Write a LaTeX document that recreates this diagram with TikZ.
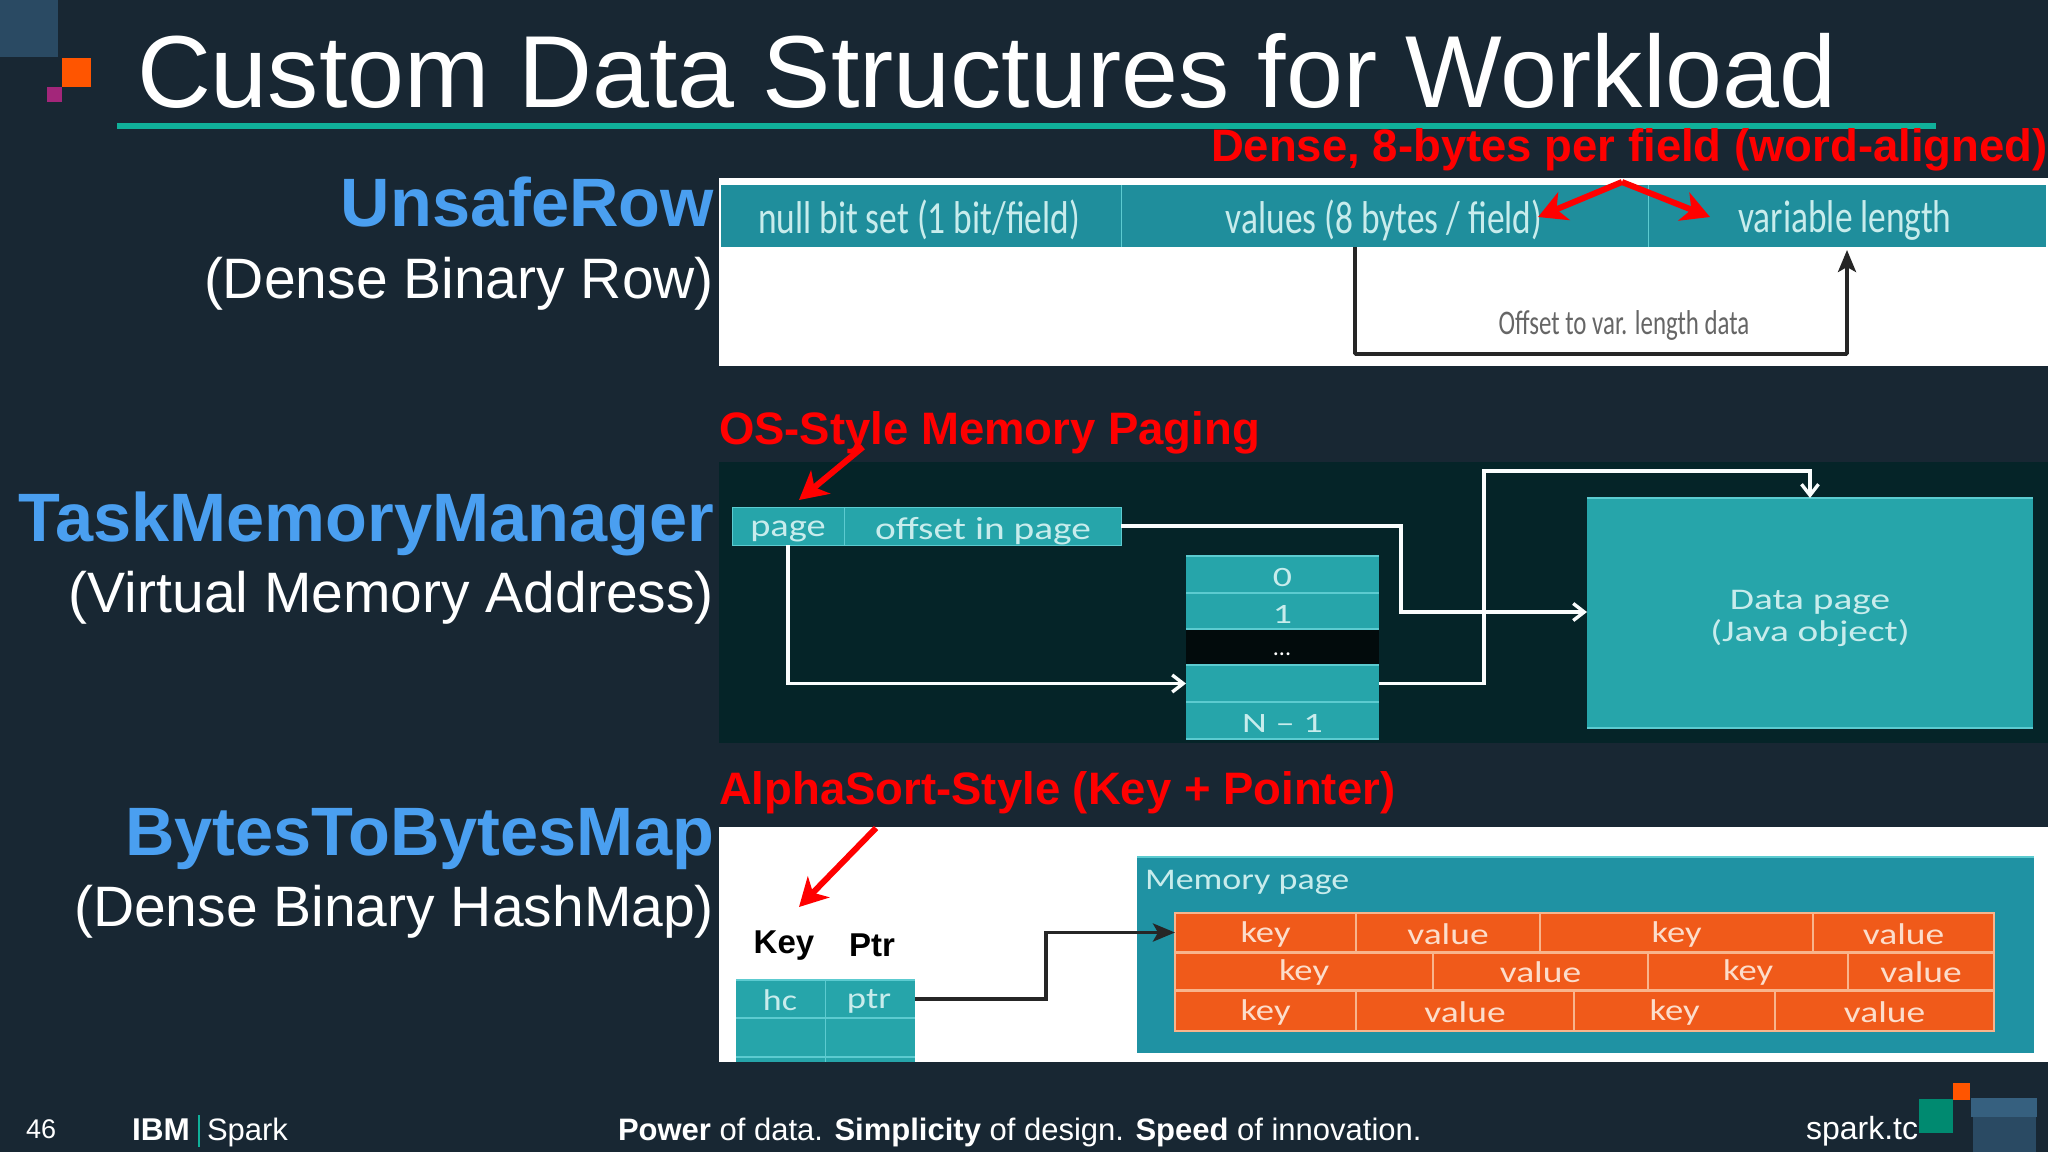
\documentclass[tikz,border=0pt]{standalone}
\usepackage{fontspec}
\setmainfont{Liberation Sans}
\newfontfamily\calfont{Carlito}
\usetikzlibrary{arrows.meta,calc}
\definecolor{bg}{HTML}{182733}
\definecolor{rule}{HTML}{10B09A}
\definecolor{blueT}{HTML}{4A9FF0}
\definecolor{tealA}{HTML}{1F8E9C}
\definecolor{tealB}{HTML}{26A5AA}
\definecolor{tealC}{HTML}{1F92A3}
\definecolor{darkP}{HTML}{052428}
\definecolor{lightT}{HTML}{C8ECEC}
\definecolor{orangeK}{HTML}{F05A1A}
\definecolor{lineL}{HTML}{5CCBD0}
\definecolor{lineO}{HTML}{F8B48C}
\definecolor{wedgeA}{HTML}{2A4A63}
\definecolor{wedgeB}{HTML}{36607F}
\definecolor{markO}{HTML}{FF5500}
\definecolor{markP}{HTML}{A3267A}
\definecolor{markG}{HTML}{008A70}
\newcommand\fsz[1]{\fontsize{#1}{#1}\selectfont}
\newcommand\hsc[2]{\scalebox{#1}[1]{#2}}
\newcommand\pxbox[6][]{%
  \pgfmathsetmacro\rbcx{(#3+#5)/2}%
  \pgfmathsetmacro\rbcy{(#4+#6)/2}%
  \pgfmathsetmacro\rbw{abs(#5-#3)}%
  \pgfmathsetmacro\rbh{abs(#6-#4)}%
  \node[pbox,minimum width=\rbw pt,minimum height=\rbh pt,#1] (#2) at (\rbcx,\rbcy) {};}
\tikzset{
  pbox/.style={rectangle,inner sep=0pt,outer sep=0pt,draw=none},
  txt/.style={inner sep=0pt,outer sep=0pt},
  panelT/.style={txt,text=lightT,font=\calfont\fsz{40}},
  redT/.style={txt,anchor=base west,text=red,font=\bfseries\fsz{45.5}},
  nameT/.style={txt,anchor=base east,text=blueT,font=\bfseries\fsz{68.5}},
  subT/.style={txt,anchor=base east,text=white,font=\fsz{57}},
  foot/.style={txt,anchor=base west,text=white},
  redA/.style={draw=red,line width=6pt,-{Stealth[length=28pt,width=30pt,inset=8pt]}},
  whiteC/.style={draw=white!90!lightT,line width=3.4pt},
  whiteA/.style={whiteC,-{Straight Barb[length=11pt,width=17pt]}},
  blackC/.style={draw=black!85,line width=3.8pt},
  blackA/.style={blackC,-{Stealth[length=22pt,width=18pt,inset=5pt]}},
  ot/.style={txt,yshift=-1.5pt,text=lineO!45!white,font=\calfont\fsz{30}},
}
\begin{document}
\begin{tikzpicture}[x=1pt,y=-1pt]
\useasboundingbox (0,0) rectangle (2048,1152);
\fill[bg] (0,0) rectangle (2048,1152);
% corner marks
\pxbox[fill=wedgeA]{cornerA}{0}{0}{58}{57}
\pxbox[fill=markO]{cornerB}{62}{58}{91}{87}
\pxbox[fill=markP]{cornerC}{47}{87}{62}{102}
% title
\node[txt,anchor=base west,text=white,font=\fsz{102.4}] (title) at (137,107) {Custom Data Structures for Workload};
\pxbox[fill=rule]{titlerule}{117}{123}{1936}{129}
% panel 1
\pxbox[fill=white]{panelA}{719}{178}{2048}{366}
\pxbox[fill=tealA]{nullcell}{721}{185}{1121}{247}
\pxbox[fill=tealA]{valcell}{1121}{185}{1648}{247}
\pxbox[fill=tealA]{varcell}{1648}{185}{2046}{247}
\draw[lineL,line width=1pt] (nullcell.north east) -- (nullcell.south east);
\draw[lineL,line width=1pt] (valcell.north east) -- (valcell.south east);
\node[panelT] (nulltxt) at (919,220) {\scalebox{0.885}[1.15]{null bit set (1 bit/field)}};
\node[panelT] (valtxt) at (1384,220) {\scalebox{0.885}[1.15]{values (8 bytes / field)}};
\node[panelT] (vartxt) at (1845,220) {\scalebox{0.885}[1.15]{variable length}};
\node[txt,text=black!60,font=\calfont\fsz{30}] (offtxt) at (1624,325) {\scalebox{0.83}[1.15]{Offset to var. length data}};
\coordinate (voff) at (1355,247);
\coordinate (vbend) at (1600,354);
\draw[blackA,rounded corners=1pt] (voff) |- (vbend) -| ([yshift=-3pt]varcell.south);
% panel 2
\pxbox[fill=darkP]{panelB}{719}{462}{2048}{743}
\pxbox[fill=tealB,draw=lineL,line width=1pt]{pagecell}{732}{507}{844}{545}
\pxbox[fill=tealB,draw=lineL,line width=1pt]{offcell}{844}{507}{1121}{545}
\node[panelT,font=\calfont\fsz{32}] (pagetxt) at (788,531) {\hsc{1.2}{page}};
\node[panelT,font=\calfont\fsz{32}] (offsettxt) at (983,531) {\hsc{1.23}{offset in page}};
\pxbox[fill=tealB]{row0}{1186}{556}{1379}{593}
\pxbox[fill=tealB]{row1}{1186}{593}{1379}{629}
\pxbox[fill=black!70!darkP]{rowd}{1186}{629}{1379}{665}
\pxbox[fill=tealB]{rowx}{1186}{665}{1379}{702}
\pxbox[fill=tealB]{rown}{1186}{702}{1379}{739}
\draw[lineL,line width=2pt] (row0.north west) -- (row0.north east);
\draw[lineL,line width=2pt] (row0.south west) -- (row0.south east);
\draw[lineL,line width=2pt] (row1.south west) -- (row1.south east);
\draw[lineL,line width=2pt] (rowx.north west) -- (rowx.north east);
\draw[lineL,line width=2pt] (rowx.south west) -- (rowx.south east);
\draw[lineL,line width=2pt] (rown.south west) -- (rown.south east);
\node[panelT,yshift=-3pt,font=\calfont\fsz{28}] (t0) at (row0) {\hsc{1.35}{0}};
\node[panelT,yshift=-3pt,font=\calfont\fsz{28}] (t1) at (row1) {\hsc{1.35}{1}};
\node[txt,text=white!75,font=\calfont\fsz{24}] (td) at (1282,654) {...};
\node[panelT,yshift=-3pt,font=\calfont\fsz{28}] (tn) at (rown) {\hsc{1.37}{N – 1}};
\pxbox[fill=tealB]{datapage}{1587}{498}{2033}{728}
\draw[lineL,line width=1.5pt] (datapage.north west) -- (datapage.north east);
\draw[lineL,line width=1.5pt] (datapage.south west) -- (datapage.south east);
\node[panelT,font=\calfont\fsz{30}] (dataA) at (1810,602) {\hsc{1.31}{Data page}};
\node[panelT,font=\calfont\fsz{30}] (dataB) at (1810,633) {\hsc{1.31}{(Java object)}};
\coordinate (offbend) at (1401,612);
\coordinate (slotbend) at (1484,471);
\draw[whiteA] (pagecell.south) |- (rowx.west);
\draw[whiteA] (offcell.east) -| (offbend) -- (offbend -| datapage.west);
\draw[whiteA] (rowx.east) -| (slotbend) -| (datapage.north);
% panel 3
\pxbox[fill=white]{panelC}{719}{827}{2048}{1062}
\pxbox[fill=tealC]{mempage}{1137}{857}{2034}{1053}
\draw[lineL,line width=1.5pt] (mempage.north west) -- (mempage.north east);
\node[txt,anchor=west,text=lightT,font=\calfont\fsz{30}] (memtxt) at (1145,882) {\hsc{1.2}{Memory page}};
\pxbox[fill=orangeK]{ka}{1175}{913}{1356}{952}
\pxbox[fill=orangeK]{va}{1356}{913}{1540}{952}
\pxbox[fill=orangeK]{kb}{1540}{913}{1813}{952}
\pxbox[fill=orangeK]{vb}{1813}{913}{1994}{952}
\pxbox[fill=orangeK]{kc}{1175}{952}{1433}{990}
\pxbox[fill=orangeK]{vc}{1433}{952}{1648}{990}
\pxbox[fill=orangeK]{kd}{1648}{952}{1848}{990}
\pxbox[fill=orangeK]{vd}{1848}{952}{1994}{990}
\pxbox[fill=orangeK]{ke}{1175}{990}{1356}{1031}
\pxbox[fill=orangeK]{ve}{1356}{990}{1574}{1031}
\pxbox[fill=orangeK]{kf}{1574}{990}{1775}{1031}
\pxbox[fill=orangeK]{vf}{1775}{990}{1994}{1031}
\foreach \cellname in {ka,va,kb,vb,kc,vc,kd,vd,ke,ve,kf,vf}
  \draw[lineO,line width=1.2pt] (\cellname.south west) rectangle (\cellname.north east);
\draw[lineO,line width=3pt] (ka.south west) -- (vb.south east);
\draw[lineO,line width=3pt] (kc.south west) -- (vd.south east);
\node[ot] (tka) at (ka) {\hsc{1.22}{key}};
\node[ot] (tva) at (va) {\hsc{1.25}{value}};
\node[ot] (tkb) at (kb) {\hsc{1.22}{key}};
\node[ot] (tvb) at (vb) {\hsc{1.25}{value}};
\node[ot] (tkc) at (kc) {\hsc{1.22}{key}};
\node[ot] (tvc) at (vc) {\hsc{1.25}{value}};
\node[ot] (tkd) at (kd) {\hsc{1.22}{key}};
\node[ot] (tvd) at (vd) {\hsc{1.25}{value}};
\node[ot] (tke) at (ke) {\hsc{1.22}{key}};
\node[ot] (tve) at (ve) {\hsc{1.25}{value}};
\node[ot] (tkf) at (kf) {\hsc{1.22}{key}};
\node[ot] (tvf) at (vf) {\hsc{1.25}{value}};
\pxbox[fill=tealB]{hc}{736}{980}{825}{1018}
\pxbox[fill=tealB]{ptr}{825}{980}{915}{1018}
\pxbox[fill=tealB]{hcb}{736}{1018}{825}{1062}
\pxbox[fill=tealB]{ptrb}{825}{1018}{915}{1062}
\draw[lineL,line width=1.5pt] (hc.north west) -- (ptr.north east);
\draw[lineL,line width=2pt] (hc.south west) -- (ptr.south east);
\draw[lineL,line width=2pt] (736,1057) -- (915,1057);
\draw[lineL,line width=1pt] (hc.north east) -- (hcb.south east);
\node[panelT,font=\calfont\fsz{30}] (hctxt) at (780,1000) {\hsc{1.2}{hc}};
\node[panelT,font=\calfont\fsz{30}] (ptrtxt) at (869,1001) {\hsc{1.22}{ptr}};
\node[txt,text=black,font=\bfseries\fsz{33}] (keyL) at (784,946) {Key};
\node[txt,text=black,font=\bfseries\fsz{33}] (ptrL) at (872,945) {Ptr};
\coordinate (ptrbend) at (1046,931);
\draw[blackA] (ptr.east) -| (ptrbend) |- (ka.west);
% left titles
\node[nameT] (n1) at (714,226) {UnsafeRow};
\node[subT] (s1) at (714,298) {(Dense Binary Row)};
\node[nameT] (n2) at (714,541) {TaskMemoryManager};
\node[subT] (s2) at (714,612) {(Virtual Memory Address)};
\node[nameT] (n3) at (714,855) {BytesToBytesMap};
\node[subT] (s3) at (714,926) {(Dense Binary HashMap)};
% red
\node[redT] (r1) at (1211,161) {Dense, 8-bytes per field (word-aligned)};
\node[redT] (r2) at (719,444) {OS-Style Memory Paging};
\node[redT] (r3) at (719,804) {AlphaSort-Style (Key + Pointer)};
\coordinate (apex) at (1622,182);
\coordinate (tipL) at (1538,217);
\coordinate (tipR) at (1710,217);
\draw[redA] (apex) -- (tipL);
\draw[redA] (apex) -- (tipR);
\coordinate (osS) at (863,447);
\coordinate (osE) at (799,500);
\draw[redA] (osS) -- (osE);
\coordinate (alS) at (876,828);
\coordinate (alE) at (799,907);
\draw[redA] (alS) -- (alE);
% footer
\node[foot,font=\fsz{27}] (pg) at (26,1138) {46};
\node[foot,font=\bfseries\fsz{31.5}] (ibm) at (132,1140) {IBM};
\pxbox[fill=rule]{ibmbar}{198}{1115}{200}{1147}
\node[foot,font=\fsz{31}] (spk) at (207,1140) {Spark};
\node[foot,font=\fsz{31}] (tag) at (618,1140) {\textbf{Power} of data. \textbf{Simplicity} of design. \textbf{Speed} of innovation.};
\node[foot,font=\fsz{32}] (stc) at (1806,1139) {spark.tc};
\pxbox[fill=markG]{sqG}{1919}{1099}{1953}{1133}
\pxbox[fill=markO]{sqO}{1953}{1083}{1970}{1100}
\pxbox[fill=wedgeB]{sqB}{1971}{1098}{2037}{1117}
\pxbox[fill=wedgeA]{sqC}{1973}{1117}{2036}{1152}
\end{tikzpicture}
\end{document}
